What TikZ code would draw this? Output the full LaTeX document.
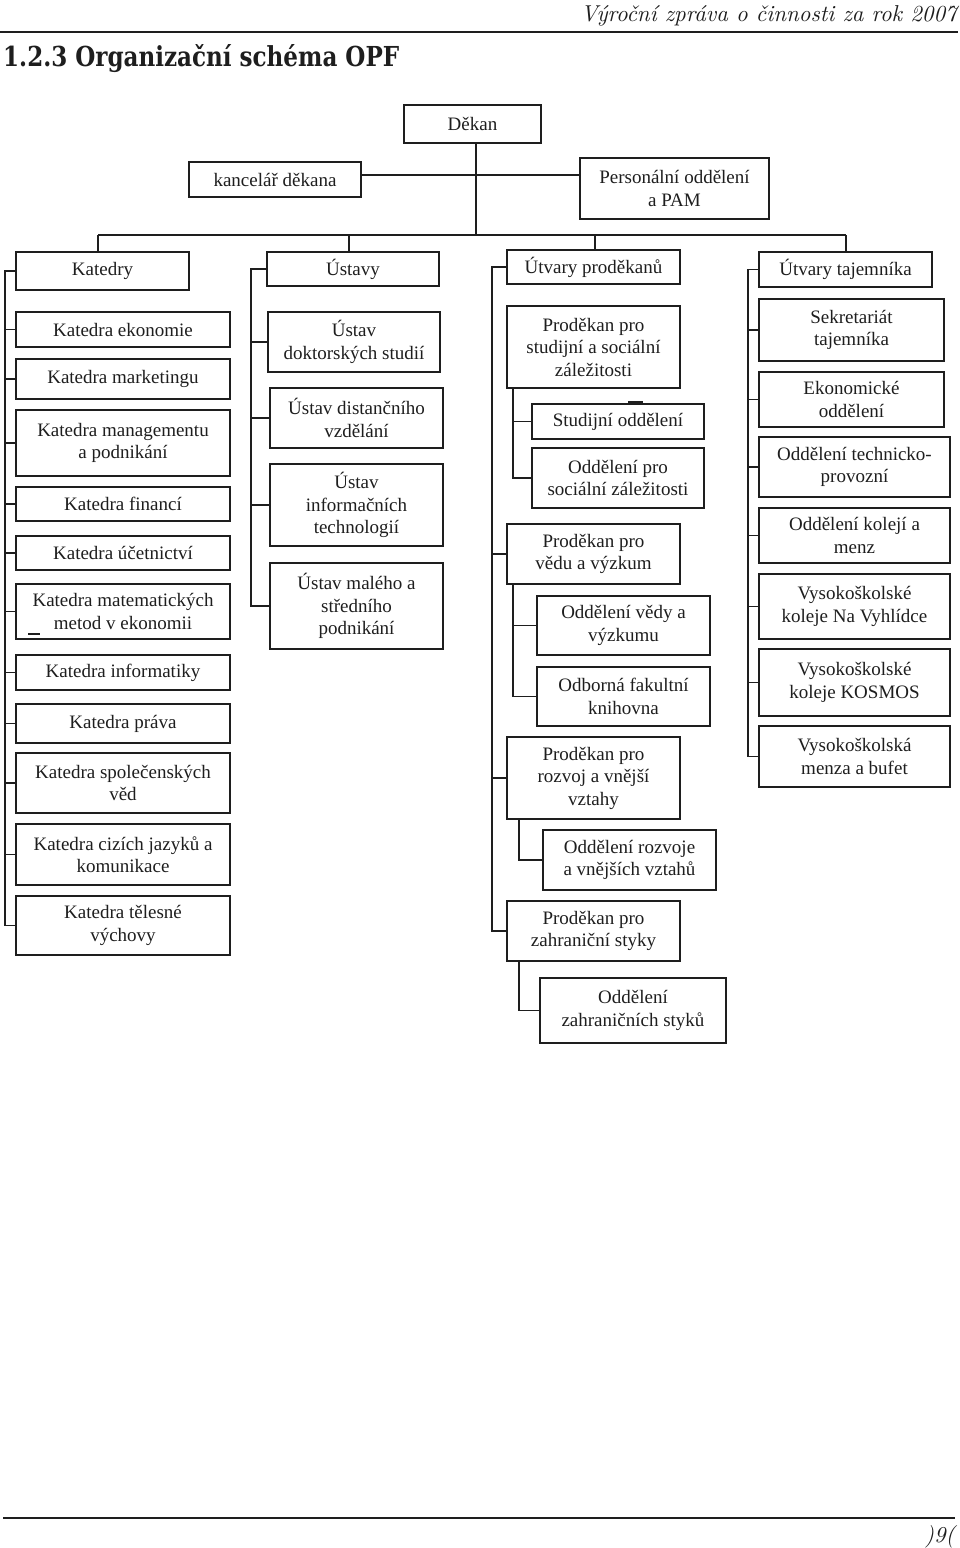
\documentclass[tikz,border=0pt]{standalone}
\usepackage{fontspec}
\usepackage{graphicx}
\newfontfamily\boxserif{Liberation Serif}
\newfontfamily\titleserif{DejaVu Serif}
\definecolor{ink}{RGB}{30,30,30}
\tikzset{
  x=1pt,y=-1pt,
  box/.style={draw=ink,line width=1.8pt,inner sep=0pt,align=center,text=ink,
    font={\boxserif\fontsize{19}{22.5}\selectfont}},
  conn/.style={draw=ink,line width=1.8pt},
  rule/.style={draw=ink,line width=2.4pt}
}
\newcommand\orgbox[6]{%
  \pgfmathsetmacro\obw{#4-#2}\pgfmathsetmacro\obh{#5-#3}%
  \pgfmathsetmacro\obx{(#2+#4)/2}\pgfmathsetmacro\oby{(#3+#5)/2}%
  \node[box,minimum width=\obw pt,minimum height=\obh pt] (#1) at (\obx,\oby) {#6};}
\begin{document}
\begin{tikzpicture}
\fill[white] (0,0) rectangle (960,1548);
\useasboundingbox (0,0) rectangle (960,1548);
% header and footer
\node[anchor=base east,inner sep=0pt,text=ink] (hdr) at (957,21) {\resizebox{376pt}{16pt}{\itshape Výroční zpráva o činnosti za rok 2007}};
\coordinate (hl) at (0,32); \coordinate (hr) at (958,32);
\draw[rule] (hl) -- (hr);
\node[anchor=base west,inner sep=0pt,text=ink] (title) at (3,66) {\resizebox{396pt}{22pt}{\titleserif\bfseries 1.2.3 Organizační schéma OPF}};
\coordinate (fl) at (3,1518); \coordinate (fr) at (955,1518);
\draw[rule] (fl) -- (fr);
\node[anchor=base east,inner sep=0pt,text=ink] (pg) at (955,1542) {\resizebox{30pt}{17pt}{\itshape )9(}};
% top level
\orgbox{dekan}{404}{105}{541}{143}{Děkan}
\orgbox{kanc}{189}{162}{361}{197}{kancelář děkana}
\orgbox{pers}{580}{158}{769}{219}{Personální oddělení\\a PAM}
\coordinate (hm) at (476,175);
\coordinate (busM) at (476,235);
\coordinate (busL) at (98,235);
\coordinate (busR) at (846,235);
\coordinate (busU) at (349,235);
\coordinate (busP) at (595,235);
\draw[conn] (busM |- dekan.south) -- (busM);
\draw[conn] (kanc.east |- hm) -- (pers.west |- hm);
\draw[conn] (busL) -- (busR);
% column heads
\orgbox{katedry}{16}{252}{189}{290}{Katedry}
\orgbox{ustavy}{267}{252}{439}{286}{Ústavy}
\orgbox{utp}{507}{250}{680}{284}{Útvary proděkanů}
\orgbox{utt}{759}{252}{932}{287}{Útvary tajemníka}
\draw[conn] (busL) -- (busL |- katedry.north);
\draw[conn] (busU) -- (busU |- ustavy.north);
\draw[conn] (busP) -- (busP |- utp.north);
\draw[conn] (busR) -- (busR |- utt.north);
% Katedry
\orgbox{k1}{16}{312}{230}{347}{Katedra ekonomie}
\orgbox{k2}{16}{359}{230}{399}{Katedra marketingu}
\orgbox{k3}{16}{410}{230}{476}{Katedra managementu\\a podnikání}
\orgbox{k4}{16}{487}{230}{521}{Katedra financí}
\orgbox{k5}{16}{536}{230}{570}{Katedra účetnictví}
\orgbox{k6}{16}{584}{230}{639}{Katedra matematických\\metod v ekonomii}
\orgbox{k7}{16}{655}{230}{690}{Katedra informatiky}
\orgbox{k8}{16}{704}{230}{743}{Katedra práva}
\orgbox{k9}{16}{753}{230}{813}{Katedra společenských\\věd}
\orgbox{k10}{16}{824}{230}{885}{Katedra cizích jazyků a\\komunikace}
\orgbox{k11}{16}{896}{230}{955}{Katedra tělesné\\výchovy}
\draw[conn] (28,634) -- (40,634);
\coordinate (kS) at (5,0);
\draw[conn] (katedry.west) -- (kS |- katedry.west) -- (kS |- k11.west) -- (k11.west);
\foreach \k in {k1,k2,k3,k4,k5,k6,k7,k8,k9,k10}{\draw[conn] (\k.west) -- (kS |- \k.west);}
% Ustavy
\orgbox{u1}{268}{312}{440}{372}{Ústav\\doktorských studií}
\orgbox{u2}{270}{388}{443}{448}{Ústav distančního\\vzdělání}
\orgbox{u3}{270}{464}{443}{546}{Ústav\\informačních\\technologií}
\orgbox{u4}{270}{563}{443}{649}{Ústav malého a\\středního\\podnikání}
\coordinate (uS) at (251,0);
\draw[conn] (ustavy.west) -- (uS |- ustavy.west) -- (uS |- u4.west) -- (u4.west);
\foreach \k in {u1,u2,u3}{\draw[conn] (\k.west) -- (uS |- \k.west);}
% Utvary prodekanu
\orgbox{p1}{507}{306}{680}{388}{Proděkan pro\\studijní a sociální\\záležitosti}
\orgbox{p1a}{532}{404}{704}{439}{Studijní oddělení}
\orgbox{p1b}{532}{448}{704}{508}{Oddělení pro\\sociální záležitosti}
\orgbox{p2}{507}{524}{680}{584}{Proděkan pro\\vědu a výzkum}
\orgbox{p2a}{537}{596}{710}{655}{Oddělení vědy a\\výzkumu}
\orgbox{p2b}{537}{667}{710}{726}{Odborná fakultní\\knihovna}
\orgbox{p3}{507}{737}{680}{819}{Proděkan pro\\rozvoj a vnější\\vztahy}
\orgbox{p3a}{543}{830}{716}{890}{Oddělení rozvoje\\a vnějších vztahů}
\orgbox{p4}{507}{901}{680}{961}{Proděkan pro\\zahraniční styky}
\orgbox{p4a}{540}{978}{726}{1043}{Oddělení\\zahraničních styků}
\draw[conn] (628,402) -- (643,402);
\coordinate (pS) at (492,0);
\draw[conn] (utp.west) -- (pS |- utp.west) -- (pS |- p4.west) -- (p4.west);
\foreach \k in {p2,p3}{\draw[conn] (\k.west) -- (pS |- \k.west);}
\coordinate (s1) at (513,0);
\coordinate (s3) at (519,0);
\draw[conn] (s1 |- p1.south) -- (s1 |- p1b.west) -- (p1b.west);
\draw[conn] (p1a.west) -- (s1 |- p1a.west);
\draw[conn] (s1 |- p2.south) -- (s1 |- p2b.west) -- (p2b.west);
\draw[conn] (p2a.west) -- (s1 |- p2a.west);
\draw[conn] (s3 |- p3.south) -- (s3 |- p3a.west) -- (p3a.west);
\draw[conn] (s3 |- p4.south) -- (s3 |- p4a.west) -- (p4a.west);
% Utvary tajemnika
\orgbox{t1}{759}{299}{944}{361}{Sekretariát\\tajemníka}
\orgbox{t2}{759}{372}{944}{427}{Ekonomické\\oddělení}
\orgbox{t3}{759}{437}{950}{497}{Oddělení technicko-\\provozní}
\orgbox{t4}{759}{508}{950}{563}{Oddělení kolejí a\\menz}
\orgbox{t5}{759}{574}{950}{639}{Vysokoškolské\\koleje Na Vyhlídce}
\orgbox{t6}{759}{649}{950}{716}{Vysokoškolské\\koleje KOSMOS}
\orgbox{t7}{759}{726}{950}{787}{Vysokoškolská\\menza a bufet}
\coordinate (tS) at (748,0);
\draw[conn] (utt.west) -- (tS |- utt.west) -- (tS |- t7.west) -- (t7.west);
\foreach \k in {t1,t2,t3,t4,t5,t6}{\draw[conn] (\k.west) -- (tS |- \k.west);}
\end{tikzpicture}
\end{document}
